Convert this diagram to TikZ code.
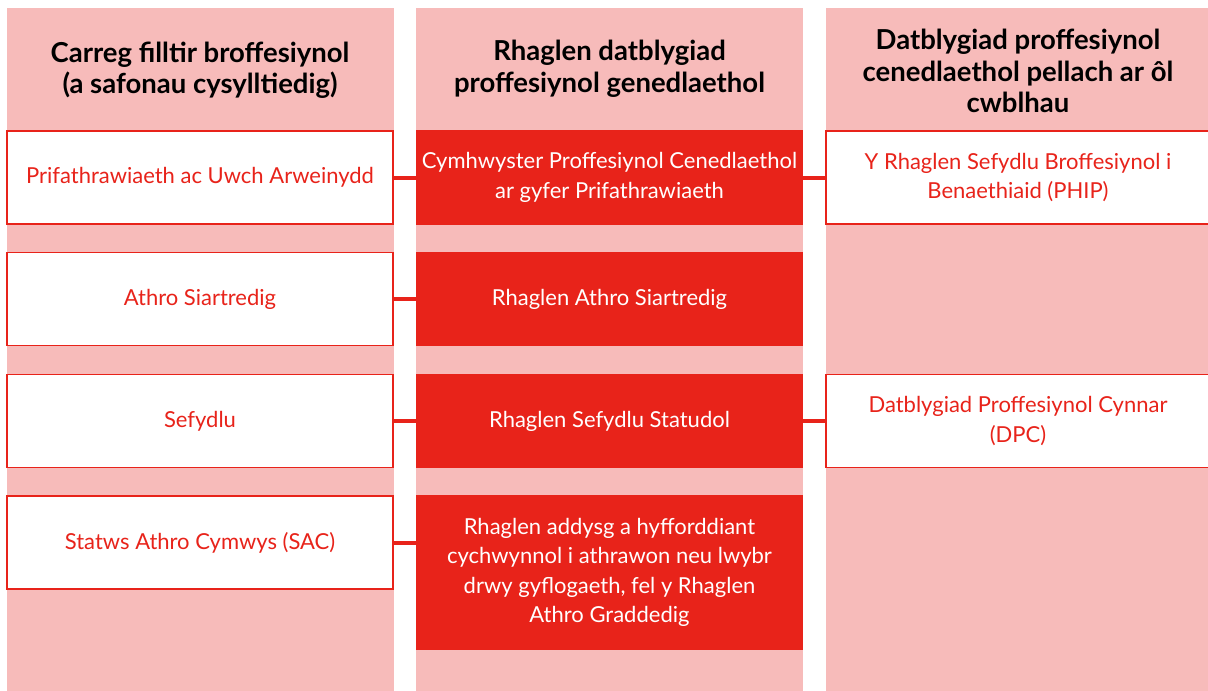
\documentclass[tikz,border=0pt]{standalone}
\usepackage{fontspec}
\setmainfont{Lato}
\definecolor{pinkbg}{HTML}{F7BBBA}
\definecolor{wred}{HTML}{E8231A}
\tikzset{
  colbg/.style={fill=pinkbg, draw=none},
  hdr/.style={align=center, font=\fontsize{27.5}{31.5}\selectfont\bfseries, text=black},
  wbox/.style={draw=wred, line width=1.2pt, fill=white, text=wred, align=center,
    font=\fontsize{22}{29.5}\selectfont, inner sep=4pt},
  rbox/.style={draw=none, fill=wred, text=white, align=center,
    font=\fontsize{22}{29.5}\selectfont, inner sep=4pt},
  conn/.style={draw=wred, line width=4pt}
}
\begin{document}
\begin{tikzpicture}[x=1pt,y=-1pt]
\useasboundingbox (0,0) rectangle (1208,691);
\fill[white] (0,0) rectangle (1208,691);
% column backgrounds
\path[colbg] (7,8) rectangle (394,691);
\path[colbg] (416,8) rectangle (803,691);
\path[colbg] (826,8) rectangle (1208,691);
% headers
\node[hdr] (h1) at (200,70) {Carreg filltir broffesiynol\\(a safonau cysylltiedig)};
\node[hdr] (h2) at (609.5,69) {Rhaglen datblygiad\\proffesiynol genedlaethol};
\node[hdr] (h3) at (1018,71) {Datblygiad proffesiynol\\cenedlaethol pellach ar ôl\\cwblhau};
% column 1
\node[wbox, minimum width=386pt, minimum height=93pt] (a1) at (200,177.5) {Prifathrawiaeth ac Uwch Arweinydd};
\node[wbox, minimum width=386pt, minimum height=93pt] (a2) at (200,299) {Athro Siartredig};
\node[wbox, minimum width=386pt, minimum height=93pt] (a3) at (200,421) {Sefydlu};
\node[wbox, minimum width=386pt, minimum height=93pt] (a4) at (200,542.5) {Statws Athro Cymwys (SAC)};
% column 2
\node[rbox, minimum width=387pt, minimum height=95pt] (b1) at (609.5,177.5) {Cymhwyster Proffesiynol Cenedlaethol\\ar gyfer Prifathrawiaeth};
\node[rbox, minimum width=387pt, minimum height=94pt] (b2) at (609.5,299) {Rhaglen Athro Siartredig};
\node[rbox, minimum width=387pt, minimum height=94pt] (b3) at (609.5,421) {Rhaglen Sefydlu Statudol};
\node[rbox, minimum width=387pt, minimum height=155pt] (b4) at (609.5,572.5) {Rhaglen addysg a hyfforddiant\\cychwynnol i athrawon neu lwybr\\drwy gyflogaeth, fel y Rhaglen\\Athro Graddedig};
% column 3
\node[wbox, minimum width=384pt, minimum height=93pt] (c1) at (1018,177.5) {Y Rhaglen Sefydlu Broffesiynol i\\Benaethiaid (PHIP)};
\node[wbox, minimum width=384pt, minimum height=93pt] (c3) at (1018,421) {Datblygiad Proffesiynol Cynnar\\(DPC)};
% connectors
\draw[conn] (a1.east) -- (b1.west);
\draw[conn] (a2.east) -- (b2.west);
\draw[conn] (a3.east) -- (b3.west);
\draw[conn] (a4.east) -- (a4.east -| b4.west);
\draw[conn] (b1.east) -- (c1.west);
\draw[conn] (b3.east) -- (c3.west);
\end{tikzpicture}
\end{document}
